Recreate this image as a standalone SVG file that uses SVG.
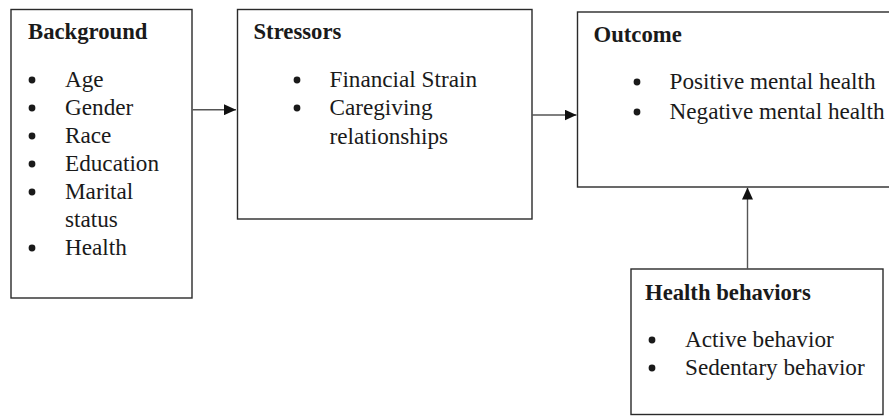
<svg xmlns="http://www.w3.org/2000/svg" width="889" height="416" viewBox="0 0 889 416">
<style>
.box{fill:#fff;stroke:#2a2a2a;stroke-width:1.4}
.t{font-family:"Liberation Serif","Times New Roman",Times,serif;font-size:23.2px;fill:#1a1a1a}
.h{font-family:"Liberation Serif","Times New Roman",Times,serif;font-size:22.7px;font-weight:bold;fill:#1a1a1a}
.b{fill:#1a1a1a}
.c{stroke:#555;stroke-width:1.4;fill:none}
</style>
<defs>
<marker id="ah" viewBox="0 0 12 11" refX="12" refY="5.5" markerWidth="12" markerHeight="11" markerUnits="userSpaceOnUse" orient="auto">
<path d="M0,0 L12,5.5 L0,11 Z" fill="#111"/>
</marker>
</defs>
<rect width="889" height="416" fill="#fff"/>
<g id="background">
<rect class="box" x="11" y="9.5" width="181" height="288.5"/>
<text class="h" x="28" y="39">Background</text>
<circle class="b" cx="32" cy="80" r="3.4"/><text class="t" x="65" y="87">Age</text>
<circle class="b" cx="32" cy="108" r="3.4"/><text class="t" x="65" y="115">Gender</text>
<circle class="b" cx="32" cy="136" r="3.4"/><text class="t" x="65" y="143">Race</text>
<circle class="b" cx="32" cy="164" r="3.4"/><text class="t" x="65" y="171">Education</text>
<circle class="b" cx="32" cy="192" r="3.4"/><text class="t" x="65" y="199">Marital</text>
<text class="t" x="65" y="227">status</text>
<circle class="b" cx="32" cy="248" r="3.4"/><text class="t" x="65" y="255">Health</text>
</g>
<g id="stressors">
<rect class="box" x="237.5" y="9.5" width="294.5" height="209.5"/>
<text class="h" x="253.5" y="39">Stressors</text>
<circle class="b" cx="297" cy="80" r="3.4"/><text class="t" x="329.5" y="87">Financial Strain</text>
<circle class="b" cx="297" cy="108" r="3.4"/><text class="t" x="329.5" y="115">Caregiving</text>
<text class="t" x="329.5" y="144">relationships</text>
</g>
<g id="outcome">
<rect class="box" x="577.5" y="12" width="320" height="175"/>
<text class="h" x="593.5" y="41.5">Outcome</text>
<circle class="b" cx="637" cy="82" r="3.4"/><text class="t" x="669.5" y="89">Positive mental health</text>
<circle class="b" cx="637" cy="112" r="3.4"/><text class="t" x="669.5" y="119">Negative mental health</text>
</g>
<g id="health-behaviors">
<rect class="box" x="631" y="269" width="252" height="145.5"/>
<text class="h" x="645" y="299.5">Health behaviors</text>
<circle class="b" cx="652" cy="340" r="3.4"/><text class="t" x="685" y="347">Active behavior</text>
<circle class="b" cx="652" cy="368" r="3.4"/><text class="t" x="685" y="375">Sedentary behavior</text>
</g>
<g id="connectors">
<line class="c" x1="192.5" y1="109.7" x2="236" y2="109.7" marker-end="url(#ah)"/>
<line class="c" x1="532" y1="115" x2="576.5" y2="115" marker-end="url(#ah)"/>
<line class="c" x1="747.5" y1="269" x2="747.5" y2="187.5" marker-end="url(#ah)"/>
</g>
</svg>
